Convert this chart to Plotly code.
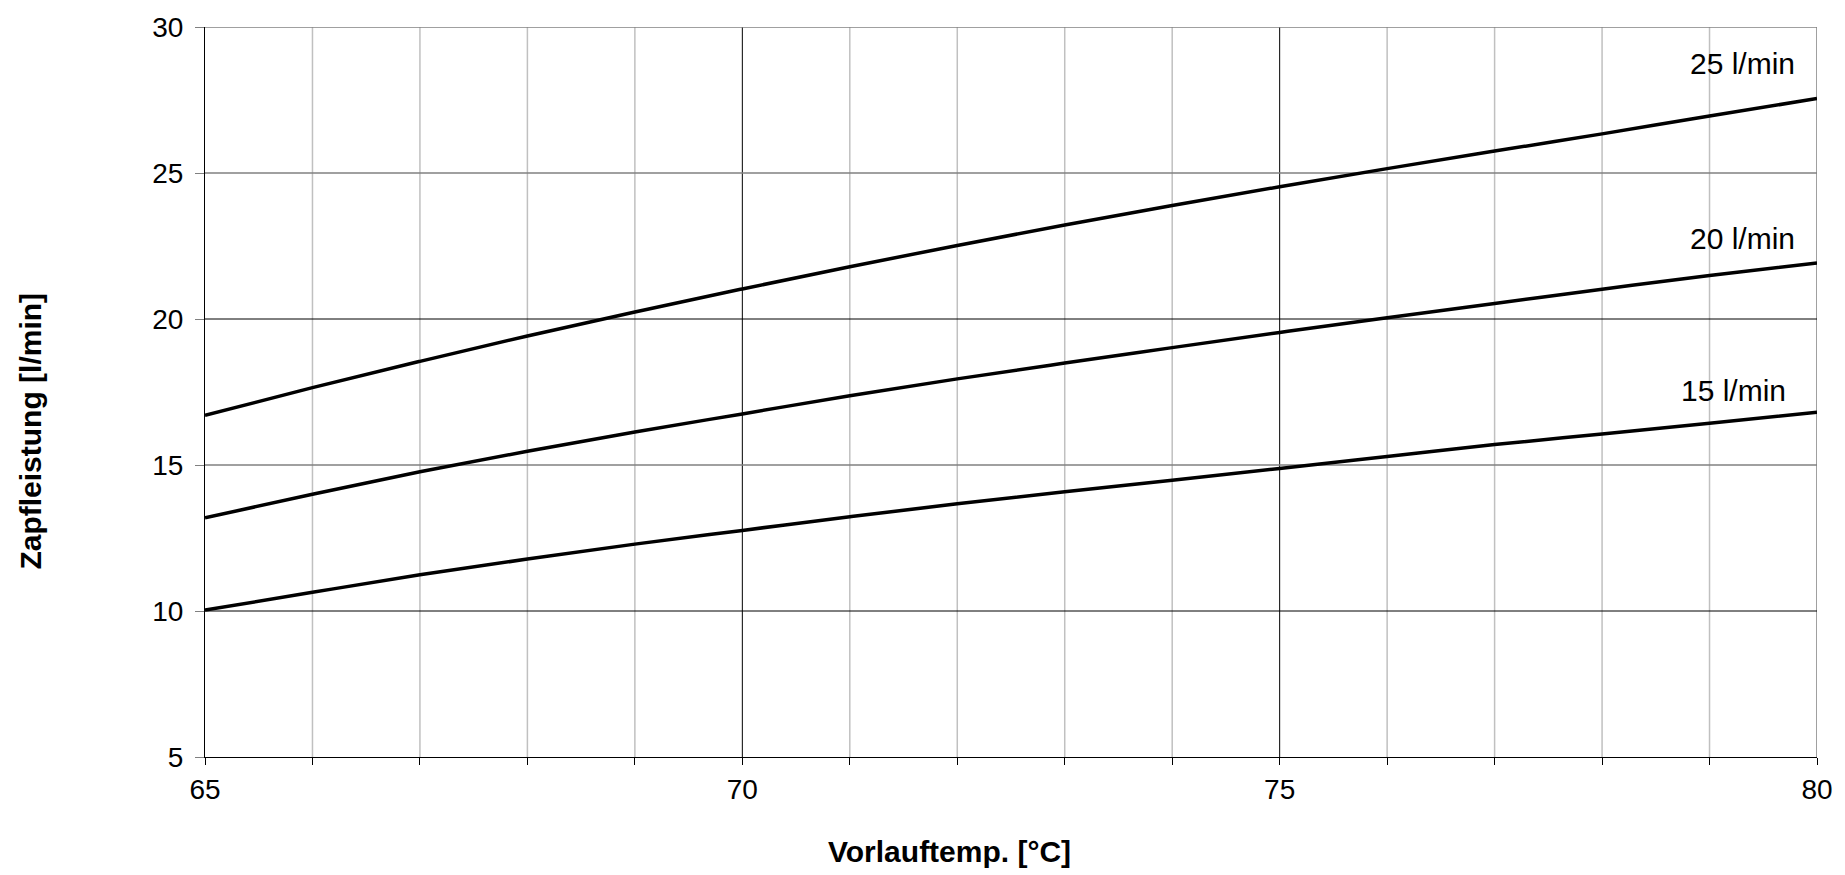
import plotly.graph_objects as go

# ---- data ----
vorlauf = [65, 66, 67, 68, 69, 70, 71, 72, 73, 74, 75, 76, 77, 78, 79, 80]
q25 = [16.70, 17.65, 18.55, 19.42, 20.24, 21.03, 21.79, 22.52, 23.22, 23.89, 24.53, 25.15, 25.75, 26.34, 26.95, 27.55]
q20 = [13.19, 14.00, 14.77, 15.47, 16.13, 16.75, 17.37, 17.95, 18.49, 19.02, 19.54, 20.04, 20.53, 21.02, 21.49, 21.92]
q15 = [10.03, 10.64, 11.24, 11.78, 12.29, 12.76, 13.23, 13.67, 14.08, 14.48, 14.88, 15.29, 15.70, 16.06, 16.43, 16.81]

series_names = ["25 l/min", "20 l/min", "15 l/min"]
series_values = [q25, q20, q15]
label_x = [79.81, 79.81, 79.73]
label_y = [28.74, 22.77, 17.55]

x_ticks = [65, 70, 75, 80]
y_ticks = [5, 10, 15, 20, 25, 30]
x_grid_minor = [66, 67, 68, 69, 71, 72, 73, 74, 76, 77, 78, 79]
x_grid_major = [70, 75]
x_grid_edge = [80]
y_grid_gray = [15, 25, 30]
y_grid_black = [10, 20]

FONT = "Liberation Sans, Arial, sans-serif"

fig = go.Figure()
for name, vals in zip(series_names, series_values):
    fig.add_trace(go.Scatter(x=vorlauf, y=vals, mode="lines", name=name,
                             line=dict(color="black", width=3.5, shape="spline", smoothing=1.0),
                             showlegend=False))

shapes = []
for xv in x_grid_minor:
    shapes.append(dict(type="line", xref="x", yref="paper", x0=xv, x1=xv, y0=0, y1=1,
                       line=dict(color="#c0c0c0", width=1.5), layer="below"))
for xv in x_grid_major:
    shapes.append(dict(type="line", xref="x", yref="paper", x0=xv, x1=xv, y0=0, y1=1,
                       line=dict(color="black", width=1), layer="below"))
for xv in x_grid_edge:
    shapes.append(dict(type="line", xref="x", yref="paper", x0=xv, x1=xv, y0=0, y1=1,
                       line=dict(color="#808080", width=1.5), layer="below"))
for yv in y_grid_gray:
    shapes.append(dict(type="line", xref="paper", yref="y", x0=0, x1=1, y0=yv, y1=yv,
                       line=dict(color="#808080", width=1.5), layer="below"))
for yv in y_grid_black:
    shapes.append(dict(type="line", xref="paper", yref="y", x0=0, x1=1, y0=yv, y1=yv,
                       line=dict(color="black", width=1), layer="below"))

annotations = []
for name, lx, ly in zip(series_names, label_x, label_y):
    annotations.append(dict(x=lx, y=ly, xref="x", yref="y", text=name, showarrow=False,
                            xanchor="right", yanchor="middle",
                            font=dict(family=FONT, size=30, color="black")))
annotations.append(dict(x=0.462, y=-0.13, xref="paper", yref="paper",
                        text="<b>Vorlauftemp. [°C]</b>", showarrow=False,
                        xanchor="center", yanchor="middle",
                        font=dict(family=FONT, size=30, color="black")))
annotations.append(dict(x=-0.108, y=0.447, xref="paper", yref="paper",
                        text="<b>Zapfleistung [l/min]</b>", showarrow=False, textangle=-90,
                        xanchor="center", yanchor="middle",
                        font=dict(family=FONT, size=30, color="black")))

fig.update_layout(
    width=1845, height=875,
    margin=dict(l=205, r=28, t=20, b=118),
    paper_bgcolor="white", plot_bgcolor="white",
    font=dict(family=FONT, size=28, color="black"),
    shapes=shapes, annotations=annotations,
    xaxis=dict(range=[65, 80], tickvals=x_ticks, ticktext=[str(v) for v in x_ticks],
               showgrid=False, zeroline=False, showline=True, linecolor="black", linewidth=1,
               ticks="outside", ticklen=7, tickcolor="black", tickwidth=1,
               ticklabeloverflow="allow",
               minor=dict(dtick=1, tick0=65, ticks="outside", ticklen=7, tickcolor="black", showgrid=False),
               tickfont=dict(family=FONT, size=28, color="black")),
    yaxis=dict(range=[5, 30], tickvals=y_ticks, ticktext=[str(v) for v in y_ticks],
               showgrid=False, zeroline=False, showline=True, linecolor="black", linewidth=1,
               ticks="outside", ticklen=9, tickcolor="#808080", tickwidth=1,
               ticklabelstandoff=6, ticklabeloverflow="allow",
               tickfont=dict(family=FONT, size=28, color="black")),
)

fig.write_html("out.html", config={"displayModeBar": False},
               post_script="document.body.style.margin='0';document.body.style.overflow='hidden';")
